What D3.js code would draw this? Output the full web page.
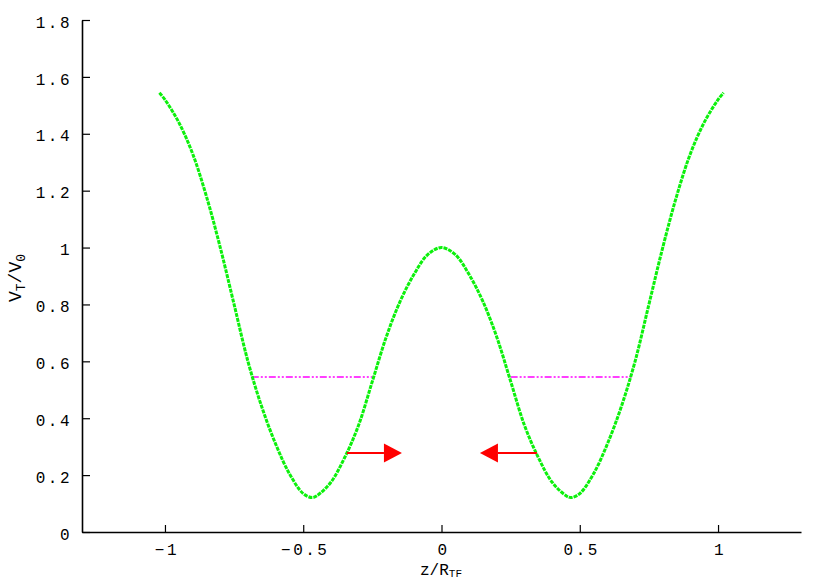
<!DOCTYPE html>
<html>
<head>
<meta charset="utf-8">
<script src="https://cdn.jsdelivr.net/npm/d3@7"></script>
<style>
  body { margin: 0; background: #fff; }
  .tick text { font-family: "Liberation Mono", "DejaVu Sans Mono", monospace; font-size: 16px; letter-spacing: 2.5px; fill: #000; }
  .lbl { font-family: "Liberation Mono", monospace; font-size: 18px; fill: #000; }
</style>
</head>
<body>
<svg id="chart" width="830" height="582"></svg>
<script>
// potential curve V_T/V_0 against z/R_TF
var zVals = [-1.02, -1.0, -0.95, -0.9, -0.85, -0.8, -0.75, -0.7, -0.65, -0.6, -0.55, -0.5, -0.468, -0.45, -0.4, -0.35, -0.3, -0.25, -0.2, -0.15, -0.1, -0.05, 0,
             0.05, 0.1, 0.15, 0.2, 0.25, 0.3, 0.35, 0.4, 0.45, 0.468, 0.5, 0.55, 0.6, 0.65, 0.7, 0.75, 0.8, 0.85, 0.9, 0.95, 1.0, 1.02];
var vVals = [1.544, 1.52, 1.44, 1.33, 1.18, 1.0, 0.80, 0.60, 0.44, 0.31, 0.205, 0.135, 0.121, 0.128, 0.175, 0.262, 0.375, 0.53, 0.685, 0.81, 0.905, 0.975, 1.0,
             0.975, 0.905, 0.81, 0.685, 0.53, 0.375, 0.262, 0.175, 0.128, 0.121, 0.135, 0.205, 0.31, 0.44, 0.60, 0.80, 1.0, 1.18, 1.33, 1.44, 1.52, 1.544];

// energy level (dash-dot) segments
var levelV = 0.545;
var levelSegs = [[-0.686, -0.25], [0.25, 0.686]];

// red arrows: [from z, to z] at height arrowV
var arrowV = 0.278;
var arrows = [[-0.342, -0.143], [0.345, 0.139]];

var xTicks = [-1, -0.5, 0, 0.5, 1];
var xTickLabels = ["\u22121", "\u22120.5", "0", "0.5", "1"];
var yTicks = [0, 0.2, 0.4, 0.6, 0.8, 1, 1.2, 1.4, 1.6, 1.8];
var yTickLabels = ["0", "0.2", "0.4", "0.6", "0.8", "1", "1.2", "1.4", "1.6", "1.8"];

var svg = d3.select("#chart");

var x = d3.scaleLinear().domain([-1.3, 1.3]).range([82, 801]);
var y = d3.scaleLinear().domain([0, 1.8]).range([532, 20]);

var xAxis = d3.axisBottom(x).tickValues(xTicks)
  .tickFormat(function(d, i) { return xTickLabels[i]; })
  .tickSizeInner(-7).tickSizeOuter(0).tickPadding(12);
var yAxis = d3.axisLeft(y).tickValues(yTicks)
  .tickFormat(function(d, i) { return yTickLabels[i]; })
  .tickSizeInner(-8).tickSizeOuter(0).tickPadding(10);

var gx = svg.append("g").attr("transform", "translate(0,532)").call(xAxis);
var gy = svg.append("g").attr("transform", "translate(82,0)").call(yAxis);
[gx, gy].forEach(function(g) {
  g.select(".domain").attr("stroke", "#000").attr("stroke-width", 1.6);
  g.selectAll(".tick line").attr("stroke", "#000").attr("stroke-width", 1.2);
});
gy.selectAll(".tick text").attr("dy", "0.45em");
gx.selectAll(".tick text").attr("dx", "1.5");

// axis titles
svg.append("text").attr("class", "lbl")
  .attr("transform", "translate(21,278) rotate(-90)")
  .attr("text-anchor", "middle")
  .html('V<tspan dy="4" font-size="13">T</tspan><tspan dy="-4">/V</tspan><tspan dy="4" font-size="13">0</tspan>');
svg.append("text").attr("class", "lbl")
  .attr("x", 441).attr("y", 575)
  .attr("text-anchor", "middle")
  .style("font-size", "16px")
  .html('z/R<tspan dy="2" font-size="11">TF</tspan>');

// level lines
svg.selectAll("line.level").data(levelSegs).enter().append("line")
  .attr("class", "level")
  .attr("x1", function(d) { return x(d[0]); })
  .attr("x2", function(d) { return x(d[1]); })
  .attr("y1", y(levelV)).attr("y2", y(levelV))
  .attr("stroke", "#ff00ff").attr("stroke-width", 1.6)
  .attr("stroke-dasharray", "7,2,2,2,2,2");

// potential curve
var pts = zVals.map(function(z, i) { return [z, vVals[i]]; });
var line = d3.line()
  .x(function(d) { return x(d[0]); })
  .y(function(d) { return y(d[1]); })
  .curve(d3.curveCatmullRom.alpha(0.5));
svg.append("path").datum(pts)
  .attr("d", line)
  .attr("fill", "none")
  .attr("stroke", "#0cf00c")
  .attr("stroke-width", 3)
  .attr("stroke-dasharray", "4,1");

// arrows
var headLen = 18, headHalf = 9.5;
arrows.forEach(function(a) {
  var x0 = x(a[0]), x1 = x(a[1]), yy = y(arrowV);
  var dir = x1 > x0 ? 1 : -1;
  svg.append("line")
    .attr("x1", x0).attr("x2", x1 - dir * headLen)
    .attr("y1", yy).attr("y2", yy)
    .attr("stroke", "#ff0000").attr("stroke-width", 2);
  svg.append("path")
    .attr("d", "M" + x1 + "," + yy +
      "L" + (x1 - dir * headLen) + "," + (yy - headHalf) +
      "L" + (x1 - dir * headLen) + "," + (yy + headHalf) + "Z")
    .attr("fill", "#ff0000");
});
</script>
</body>
</html>
